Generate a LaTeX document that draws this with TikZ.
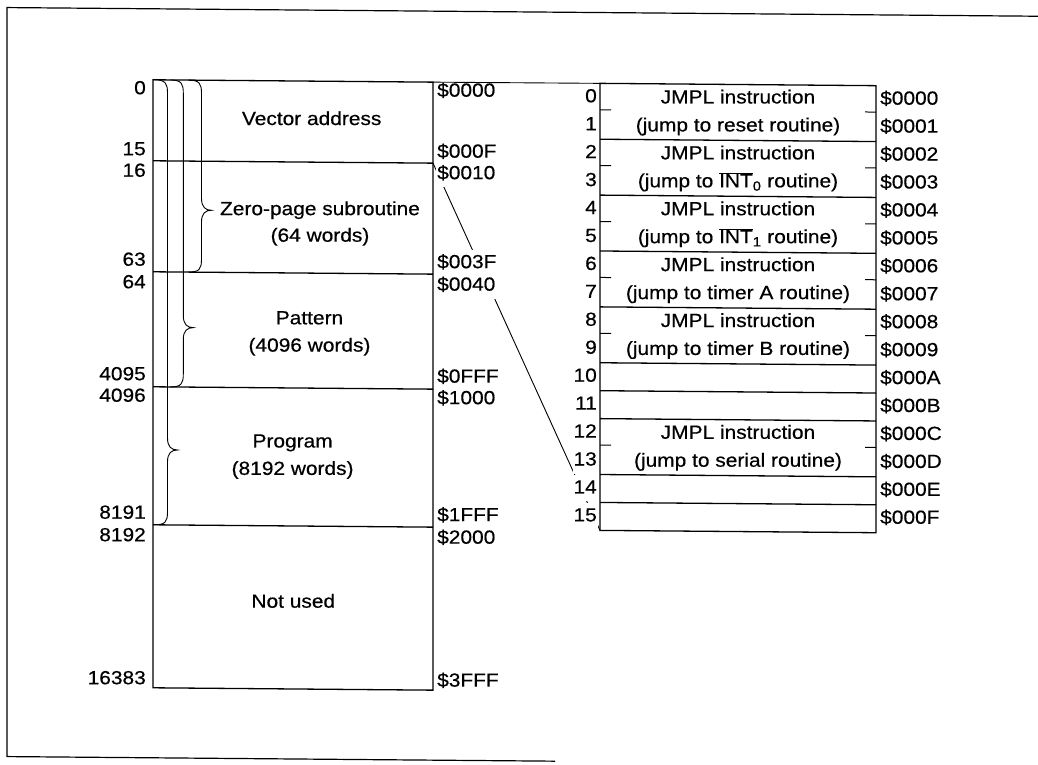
\documentclass[tikz,border=0pt]{standalone}
\usepackage{fontspec}
\setmainfont{Liberation Sans}[FakeStretch=1.1,FakeBold=0.5]
\newcommand\lblfont{\fontsize{19}{24}\selectfont}
\newcommand\ovl[1]{$\overline{\mbox{#1}}$}
\begin{document}
\begin{tikzpicture}[x=1pt,y=-1pt,
  txt/.style={font=\lblfont, inner sep=1pt, text height=14pt, text depth=4pt},
  numl/.style={txt, anchor=east},
  adrl/.style={txt, anchor=west},
  mask/.style={fill=white, inner ysep=4pt},
  memline/.style={line width=1.3pt},
  thinline/.style={line width=0.9pt},
  bracestroke/.style={line width=0.9pt},
  tickstroke/.style={line width=1pt},
  framestroke/.style={line width=1.2pt}]
\useasboundingbox (0,0) rectangle (1038,764);
\begin{scope}[yslant=-0.0084]
% frame
\draw[framestroke] (1038,7.5) -- (7,7.5) -- (7,756.5) -- (555,756.5);
% memory map box
\coordinate (bTL) at (153,78.5);
\coordinate (bTR) at (433,78.5);
\coordinate (b1R) at (433,159.5);
\draw[memline] (bTL) rectangle (433,686.5);
\foreach \yy in {159.5,270.5,385.5,523.5} \draw[memline] (153,\yy) -- (433,\yy);
% braces
\foreach \x/\b/\t in {201.5/270.5/208.5, 183.3/385.5/326, 167.5/523.5/448.5} {
  \draw[bracestroke] ({\x-13},78.5) .. controls ({\x-2},78.5) and (\x,82) .. (\x,91.5)
    -- (\x,{\t-12}) .. controls (\x,{\t-3}) and ({\x+4},\t) .. ({\x+10},\t)
    .. controls ({\x+4},\t) and (\x,{\t+3}) .. (\x,{\t+12})
    -- (\x,{\b-13}) .. controls (\x,{\b-3.5}) and ({\x-2},\b) .. ({\x-13},\b);
}
% vector table
\coordinate (tTL) at (600,78.3);
\coordinate (tBL) at (600,525.34);
\draw[memline] (tTL) rectangle (876,525.34);
\foreach \b in {134.18,190.06,245.94,301.82,357.70,385.64,413.58,469.46,497.40}
  \draw[memline] (600,\b) -- (876,\b);
\foreach \m in {104.7,160.6,216.5,272.4,328.3,440.0}
  \draw[tickstroke] (600,\m) -- (611,\m) (865,\m) -- (876,\m);
% funnel lines
\draw[thinline] (bTR) -- (tTL);
\draw[thinline] (b1R) -- (tBL);
% box texts
\node[txt] (va) at (311.7,117.4) {Vector address};
\node[txt] (zp1) at (320,207.4) {Zero-page subroutine};
\node[txt] (zp2) at (320,234) {(64 words)};
\node[txt] (pa1) at (309.5,316.7) {Pattern};
\node[txt] (pa2) at (309.5,344) {(4096 words)};
\node[txt] (pr1) at (292.6,440) {Program};
\node[txt] (pr2) at (292.6,467.4) {(8192 words)};
\node[txt] (nu) at (293.3,600.2) {Not used};
% left numbers
\foreach \n/\yy in {0/88, 15/149, 16/170.5, 63/259.5, 64/282, 4095/374, 4096/395.5, 8191/512.5, 8192/535, 16383/678}
  \node[numl] (ln\n) at (147,\yy) {\n};
% addresses of the memory map
\foreach \a/\yy in {0000/88, 000F/149, 1000/395.5, 0FFF/374, 1FFF/512.5, 2000/535, 3FFF/678}
  \node[adrl] (la\a) at (436,\yy) {\$\a};
\foreach \a/\yy in {0010/170.5, 003F/259.5, 0040/282}
  \node[adrl,mask] (la\a) at (436,\yy) {\$\a};
% table numbers and addresses
\foreach \r/\a in {0/0000,1/0001,2/0002,3/0003,4/0004,5/0005,6/0006,7/0007,8/0008,9/0009,10/000A,11/000B,12/000C} {
  \node[numl] (rn\r) at (598,{78.3+(\r+0.5)*27.94}) {\r};
  \node[adrl] (ra\r) at (879,{78.3+(\r+0.5)*27.94}) {\$\a};
}
\foreach \r/\a in {13/000D,14/000E,15/000F} {
  \node[numl,mask] (rn\r) at (598,{78.3+(\r+0.5)*27.94}) {\r};
  \node[adrl] (ra\r) at (879,{78.3+(\r+0.5)*27.94}) {\$\a};
}
% table texts
\node[txt] (j0) at (738,92.27) {JMPL instruction};
\node[txt] (j1) at (738,120.21) {(jump to reset routine)};
\node[txt] (j2) at (738,148.15) {JMPL instruction};
\node[txt] (j3) at (738,176.09) {(jump to \ovl{INT}\textsubscript{0} routine)};
\node[txt] (j4) at (738,204.03) {JMPL instruction};
\node[txt] (j5) at (738,231.97) {(jump to \ovl{INT}\textsubscript{1} routine)};
\node[txt] (j6) at (738,259.91) {JMPL instruction};
\node[txt] (j7) at (738,287.85) {(jump to timer A routine)};
\node[txt] (j8) at (738,315.79) {JMPL instruction};
\node[txt] (j9) at (738,343.73) {(jump to timer B routine)};
\node[txt] (j12) at (738,427.55) {JMPL instruction};
\node[txt] (j13) at (738,455.49) {(jump to serial routine)};
\end{scope}
\end{tikzpicture}
\end{document}
